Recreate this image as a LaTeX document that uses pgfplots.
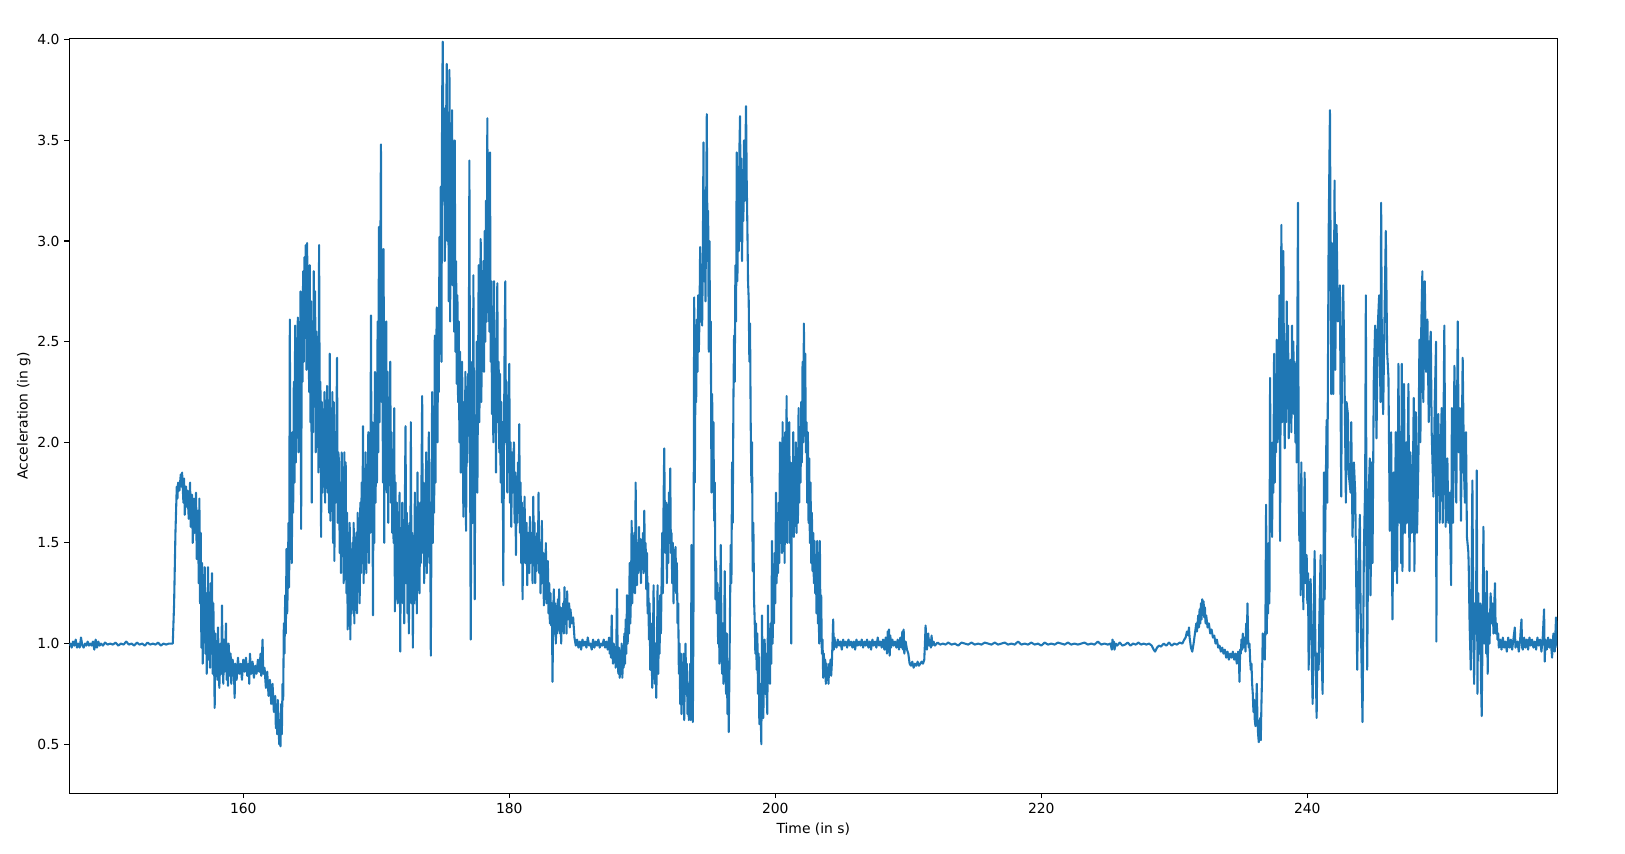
\documentclass[border=0pt]{standalone}
\usepackage{pgfplots}
\pgfplotsset{compat=1.18}
\usepackage{fontspec}
\setmainfont{DejaVu Sans}
\definecolor{mplblue}{HTML}{1F77B4}
\begin{document}
\fontsize{10bp}{12bp}\selectfont
\begin{tikzpicture}
\path[use as bounding box] (-49.9bp,-43.0bp) rectangle (1120.1bp,571.2bp);
\begin{axis}[
 at={(0,0)}, anchor=south west, scale only axis,
 width=1071.4bp, height=543.6bp,
 xmin=146.92, xmax=258.8, ymin=0.256, ymax=4.007,
 xtick={160,180,200,220,240},
 ytick={0.5,1,1.5,2,2.5,3,3.5,4},
 yticklabel style={/pgf/number format/.cd, fixed, fixed zerofill, precision=1},
 /pgf/number format/assume math mode=true,
 tick label style={font=\fontsize{10bp}{12bp}\selectfont},
 label style={font=\fontsize{10bp}{12bp}\selectfont},
 tick align=outside, tick pos=left,
 major tick length=3.5bp,
 every tick/.style={black, line width=0.8bp},
 axis line style={line width=0.8bp},
 every axis y label/.style={at={(axis description cs:0,0.5)}, xshift=-32.7bp, rotate=90, anchor=center},
 every axis x label/.style={at={(axis description cs:0.5,0)}, yshift=-25.7bp, anchor=center},
 xlabel={Time (in s)},
 ylabel={Acceleration (in g)},
]
\addplot[mplblue, line width=1.5bp, line join=round, no marks] coordinates {
(146.92,0.99)(147.0,1.00)(147.1,0.98)(147.2,1.01)(147.3,0.99)(147.4,1.02)(147.5,0.98)(147.6,1.00)(147.7,0.98)(147.8,1.03)(147.9,0.99)(148.0,0.98)(148.1,1.00)(148.2,0.99)(148.3,1.01)(148.4,0.99)(148.5,1.00)(148.6,0.99)(148.7,1.01)(148.8,0.97)(148.9,1.02)(149.0,0.98)(149.1,1.01)(149.2,0.99)(149.3,1.00)(149.45,0.99)(149.6,1.005)(149.8,0.995)(150.0,1.00)(150.2,0.995)(150.4,1.005)(150.6,0.99)(150.8,1.00)(151.0,0.995)(151.2,1.01)(151.4,0.995)(151.6,1.00)(151.8,0.99)(152.0,1.005)(152.2,0.995)(152.4,1.00)(152.6,0.99)(152.8,1.005)(153.0,0.995)(153.2,1.00)(153.4,0.995)(153.6,1.005)(153.8,0.99)(154.0,1.00)(154.2,0.995)(154.4,1.00)(154.6,1.00)(154.7,1.00)
(154.8,1.20)(154.9,1.55)(155.0,1.78)(155.05,1.72)(155.1,1.80)(155.2,1.76)(155.3,1.84)(155.35,1.78)(155.4,1.85)(155.5,1.70)(155.55,1.82)(155.6,1.64)(155.7,1.78)(155.75,1.68)(155.8,1.76)(155.9,1.62)(156.0,1.80)(156.05,1.58)(156.15,1.74)(156.2,1.50)(156.3,1.72)(156.35,1.55)(156.45,1.75)(156.5,1.42)(156.6,1.66)(156.65,1.30)(156.7,1.72)(156.75,1.20)(156.8,1.55)(156.85,0.98)(156.9,1.40)(156.95,0.90)(157.0,1.34)(157.05,1.05)(157.1,1.38)(157.15,0.95)(157.2,1.25)(157.25,0.85)(157.3,1.10)(157.35,1.38)(157.4,0.92)(157.45,1.15)(157.5,0.88)(157.55,1.30)(157.6,0.95)(157.65,1.35)(157.7,0.85)(157.75,1.20)(157.8,0.95)(157.85,0.68)(157.9,1.05)(157.95,0.85)(158.0,1.00)(158.05,0.82)(158.1,1.08)(158.15,0.90)(158.2,0.78)(158.3,1.00)(158.35,0.85)(158.4,1.19)(158.45,0.88)(158.5,0.80)(158.55,1.02)(158.6,0.86)(158.7,1.10)(158.75,0.82)(158.8,0.95)(158.85,0.79)(158.9,1.00)(159.0,0.84)(159.05,0.95)(159.1,0.80)(159.2,0.92)(159.3,0.86)(159.35,0.73)(159.4,0.90)(159.5,0.82)(159.6,0.93)(159.7,0.85)(159.8,0.90)(159.9,0.82)(160.0,0.92)(160.1,0.86)(160.2,0.93)(160.3,0.84)(160.4,0.90)(160.45,0.80)(160.5,0.95)(160.6,0.85)(160.7,0.91)(160.8,0.83)(160.9,0.89)(161.0,0.85)(161.1,0.92)(161.2,0.86)(161.3,0.95)(161.35,0.84)(161.45,1.02)(161.5,0.85)(161.6,0.88)(161.7,0.78)(161.8,0.86)(161.9,0.74)(162.0,0.82)(162.1,0.70)(162.2,0.80)(162.3,0.66)(162.4,0.74)(162.45,0.58)(162.5,0.68)(162.55,0.55)(162.6,0.72)(162.7,0.50)(162.75,0.62)(162.8,0.49)(162.85,0.70)(162.9,0.55)(162.95,0.80)(163.0,0.72)
(163.05,1.10)(163.1,0.95)(163.15,1.24)(163.2,1.05)(163.25,1.47)(163.3,1.15)(163.35,1.30)(163.4,1.60)(163.45,1.28)(163.5,2.61)(163.55,1.50)(163.6,1.70)(163.65,1.40)(163.7,2.05)(163.75,1.65)(163.8,2.30)(163.85,1.80)(163.9,2.58)(163.95,1.90)(164.0,2.45)(164.05,2.10)(164.1,2.62)(164.15,1.95)(164.2,2.50)(164.25,2.20)(164.3,2.75)(164.35,1.57)(164.4,2.60)(164.45,2.30)(164.5,2.85)(164.55,2.40)(164.6,2.92)(164.65,2.55)(164.7,2.98)(164.75,2.36)(164.8,2.99)(164.85,2.50)(164.9,2.80)(164.95,2.25)(165.0,2.88)(165.05,2.10)(165.1,2.70)(165.15,1.70)(165.2,2.60)(165.25,2.05)(165.3,2.85)(165.35,2.20)(165.4,2.75)(165.45,1.95)(165.5,2.55)(165.55,2.00)(165.6,2.45)(165.65,1.85)(165.7,2.98)(165.75,2.10)(165.8,2.30)(165.85,1.53)(165.9,2.20)(165.95,1.75)(166.0,2.15)(166.05,1.80)(166.1,2.25)(166.15,1.70)(166.2,2.05)(166.25,1.85)(166.3,2.28)(166.35,1.75)(166.4,2.00)(166.45,1.65)(166.5,2.44)(166.55,1.61)(166.6,2.10)(166.65,1.75)(166.7,2.25)(166.75,1.50)(166.8,2.20)(166.85,1.41)(166.9,2.05)(166.95,1.70)(167.0,2.05)(167.05,2.42)(167.1,1.60)(167.15,1.95)(167.2,1.90)(167.25,1.45)(167.3,1.80)(167.35,1.35)(167.4,1.95)(167.45,1.50)(167.5,1.85)(167.55,1.30)(167.6,1.95)(167.65,1.40)(167.7,1.90)(167.75,1.25)(167.8,1.65)(167.85,1.07)(167.9,1.55)(167.95,1.20)(168.0,1.60)(168.05,1.02)(168.1,1.45)(168.15,1.15)(168.2,1.50)(168.25,1.25)(168.3,1.60)(168.35,1.10)(168.4,1.45)(168.45,1.25)(168.5,1.55)(168.55,1.15)(168.6,1.65)(168.65,1.30)(168.7,1.50)(168.75,1.20)(168.8,1.70)(168.85,1.35)(168.9,1.80)(168.95,1.40)(169.0,2.08)(169.05,1.30)(169.1,1.75)(169.15,1.45)(169.2,1.95)(169.25,1.35)(169.3,1.80)(169.35,1.50)(169.4,2.05)(169.45,1.40)(169.5,1.90)(169.55,1.55)(169.6,2.63)(169.65,1.60)(169.7,2.10)(169.75,1.14)(169.8,2.00)(169.85,1.50)(169.9,2.35)(169.95,1.70)(170.0,2.30)(170.05,1.80)(170.1,2.60)(170.15,1.95)(170.2,3.07)(170.25,2.10)(170.3,2.85)(170.35,3.48)(170.4,2.20)(170.45,2.75)(170.5,1.80)(170.55,2.96)(170.6,1.50)(170.65,2.40)(170.7,1.90)(170.75,2.60)(170.8,1.75)(170.85,2.35)(170.9,1.60)(170.95,2.20)
(171.0,1.85)(171.05,2.40)(171.1,1.70)(171.15,2.05)(171.2,1.55)(171.25,1.90)(171.3,1.50)(171.35,2.17)(171.4,1.16)(171.45,1.80)(171.5,1.30)(171.55,1.70)(171.6,1.20)(171.65,1.60)(171.7,1.35)(171.75,1.75)(171.8,0.96)(171.85,1.50)(171.9,1.25)(171.95,1.70)(172.0,1.20)(172.05,1.55)(172.1,1.10)(172.15,1.70)(172.2,2.08)(172.25,1.30)(172.3,1.65)(172.35,1.15)(172.4,1.50)(172.45,1.05)(172.5,1.60)(172.55,1.25)(172.6,2.10)(172.65,1.20)(172.7,1.55)(172.75,0.98)(172.8,1.45)(172.85,1.20)(172.9,1.75)(172.95,1.30)(173.0,1.60)(173.05,1.15)(173.1,1.85)(173.15,1.35)(173.2,1.65)(173.25,1.25)(173.3,1.70)(173.35,1.40)(173.45,2.23)(173.5,1.45)(173.55,1.80)(173.6,1.30)(173.65,1.65)(173.7,1.50)(173.75,1.95)(173.8,1.35)(173.85,1.75)(173.9,1.55)(173.95,2.05)(174.0,1.40)(174.05,1.70)(174.1,0.94)(174.15,1.60)(174.2,2.25)(174.25,1.50)(174.3,1.90)(174.35,1.65)(174.4,2.53)(174.45,1.80)(174.5,2.40)(174.55,2.67)(174.6,2.00)(174.65,2.55)(174.7,2.25)(174.75,3.02)(174.8,2.60)(174.85,3.27)(174.9,2.40)(174.95,3.70)(175.0,3.99)
(175.05,3.20)(175.1,3.66)(175.15,2.90)(175.2,3.15)(175.25,3.60)(175.3,3.88)(175.35,3.00)(175.4,3.50)(175.45,2.70)(175.5,3.85)(175.55,2.60)(175.6,3.30)(175.65,2.95)(175.7,3.65)(175.75,2.78)(175.8,3.20)(175.85,2.55)(175.9,3.50)(175.95,2.45)(176.0,2.90)(176.05,2.29)(176.1,2.73)(176.15,2.20)(176.2,2.60)(176.25,2.00)(176.3,2.45)(176.35,1.85)(176.45,2.40)(176.55,1.63)(176.6,2.20)(176.65,1.80)(176.7,2.35)(176.75,1.56)(176.8,2.10)(176.85,1.90)(176.9,2.34)(176.95,2.20)(177.0,3.40)(177.05,2.00)(177.1,1.02)(177.15,1.80)(177.2,2.40)(177.25,1.60)(177.3,2.83)(177.35,1.90)(177.4,1.22)(177.45,2.10)(177.5,1.92)(177.55,2.50)(177.6,1.75)(177.7,2.88)(177.75,2.10)(177.8,2.60)(177.85,3.01)(177.9,2.20)(177.95,2.70)(178.0,2.44)(178.05,2.90)(178.1,2.35)(178.15,3.05)(178.2,2.50)(178.25,3.20)(178.3,2.60)(178.35,3.61)(178.4,2.70)(178.45,3.20)(178.5,2.55)(178.55,3.44)(178.6,2.40)(178.65,2.80)(178.7,2.14)(178.75,2.60)(178.8,2.00)(178.85,2.80)(178.9,2.20)(178.95,2.50)(179.0,1.85)(179.05,2.45)(179.1,2.79)(179.15,2.10)(179.2,2.40)(179.25,1.95)(179.3,2.34)(179.35,1.80)(179.4,2.20)(179.45,1.70)(179.5,2.10)(179.55,1.29)(179.6,2.00)(179.65,2.50)(179.7,2.80)(179.75,2.00)(179.8,2.30)(179.85,1.75)(179.9,2.15)(179.95,1.90)(180.0,2.39)(180.05,1.70)(180.1,2.00)(180.15,1.58)(180.2,1.95)(180.25,1.75)(180.35,2.00)(180.4,1.60)(180.45,1.85)(180.5,1.44)(180.55,1.80)(180.6,1.60)(180.65,1.90)(180.7,1.65)(180.75,2.09)(180.8,1.55)(180.85,1.80)(180.9,1.40)(180.95,1.70)(181.0,1.22)(181.05,1.60)(181.1,1.45)(181.15,1.73)(181.2,1.40)(181.3,1.60)(181.35,1.29)(181.4,1.55)(181.5,1.35)(181.55,1.63)(181.6,1.40)(181.7,1.55)(181.75,1.30)(181.8,1.73)(181.85,1.45)(181.9,1.60)(181.95,1.30)(182.0,1.50)(182.05,1.36)(182.1,1.55)(182.15,1.40)(182.2,1.75)(182.25,1.35)(182.3,1.50)(182.35,1.25)(182.45,1.61)(182.5,1.30)(182.55,1.45)(182.6,1.19)(182.65,1.40)(182.7,1.25)(182.75,1.50)(182.8,1.20)(182.9,1.41)(182.95,1.15)(183.0,1.30)(183.05,1.10)(183.1,1.25)(183.15,1.09)(183.2,1.20)(183.25,0.81)(183.3,1.15)(183.35,1.27)(183.4,1.05)(183.45,1.20)(183.5,1.00)(183.55,1.15)(183.6,1.05)(183.65,1.22)(183.7,1.10)(183.75,1.27)(183.8,1.05)(183.85,1.18)(183.9,1.00)(183.95,1.15)(184.0,1.09)(184.05,1.20)(184.1,1.05)(184.15,1.28)(184.2,1.10)(184.25,1.20)(184.3,1.05)(184.35,1.26)(184.4,1.12)(184.5,1.20)(184.55,1.08)(184.6,1.17)(184.7,1.10)(184.8,1.13)(184.9,1.03)
(185.0,0.99)(185.1,1.02)(185.2,0.98)(185.3,1.01)(185.4,0.97)(185.5,1.02)(185.6,0.99)(185.7,1.01)(185.8,0.98)(185.9,1.03)(186.0,0.99)(186.1,1.00)(186.2,0.97)(186.3,1.02)(186.4,0.98)(186.5,1.01)(186.6,0.99)(186.7,1.02)(186.8,0.98)(186.9,1.00)(187.0,0.99)(187.1,1.02)(187.2,0.98)(187.3,1.01)(187.4,0.97)(187.5,1.03)(187.55,0.95)(187.6,1.01)(187.65,0.93)(187.7,1.14)(187.75,0.96)(187.8,0.90)(187.85,1.00)(187.9,0.92)(187.95,0.98)(188.0,0.88)(188.05,1.00)(188.1,1.27)(188.15,0.92)(188.2,0.85)(188.25,0.98)(188.3,0.83)(188.35,0.95)(188.4,0.86)(188.45,1.00)(188.5,0.83)(188.55,0.94)(188.6,0.88)(188.65,1.05)(188.7,0.90)(188.75,1.12)(188.8,0.95)(188.85,1.24)(188.9,1.00)(188.95,1.15)(189.0,1.05)(189.05,1.40)(189.1,1.10)(189.15,1.25)
(189.2,1.61)(189.25,1.20)(189.3,1.45)(189.35,1.31)(189.4,1.55)(189.45,1.25)(189.5,1.80)(189.55,1.40)(189.6,1.29)(189.65,1.50)(189.7,1.35)(189.75,1.58)(189.8,1.40)(189.85,1.52)(189.9,1.30)(189.95,1.48)(190.0,1.44)(190.05,1.55)(190.1,1.35)(190.15,1.66)(190.2,1.40)(190.25,1.50)(190.3,1.27)(190.35,1.45)(190.4,1.15)(190.45,1.30)(190.5,1.02)(190.55,1.20)(190.6,0.87)(190.65,1.10)(190.7,0.95)(190.75,0.78)(190.8,1.00)(190.85,1.29)(190.9,0.90)(190.95,0.80)(191.0,1.00)(191.05,0.73)(191.1,0.95)(191.15,1.29)(191.2,0.85)(191.25,1.10)(191.3,0.95)(191.35,1.24)(191.4,1.05)(191.45,1.30)(191.5,1.55)(191.55,1.25)(191.6,1.70)(191.65,1.97)(191.7,1.60)(191.75,1.45)(191.8,1.70)(191.85,1.30)(191.9,1.60)(191.95,1.40)(192.0,1.75)(192.05,1.50)(192.1,1.87)(192.15,1.45)(192.2,1.55)(192.25,1.30)(192.3,1.50)(192.35,1.20)(192.4,1.45)(192.45,1.33)(192.5,1.48)(192.55,1.25)(192.6,1.40)(192.65,1.10)(192.7,1.20)(192.75,0.85)(192.8,1.00)(192.85,0.70)(192.9,0.95)(192.95,0.65)(193.0,0.88)(193.05,0.70)(193.1,0.95)(193.15,0.62)(193.2,0.85)(193.25,1.00)(193.3,0.75)(193.35,0.90)(193.4,0.65)(193.45,0.80)(193.5,0.62)(193.55,0.75)(193.6,0.90)(193.65,0.62)(193.7,1.49)(193.75,0.80)(193.8,0.61)(193.85,1.20)(193.9,2.72)(193.95,1.80)(194.0,2.40)(194.05,2.20)(194.1,2.61)(194.15,2.35)(194.2,2.73)(194.25,2.45)(194.3,2.62)(194.35,2.97)(194.4,2.60)(194.45,2.80)(194.5,2.58)(194.55,2.90)(194.6,3.49)(194.65,2.80)(194.7,3.19)(194.75,2.70)(194.85,3.63)(194.9,2.90)(194.95,3.15)(195.0,2.45)(195.05,3.00)(195.1,2.46)(195.15,2.60)(195.2,1.75)(195.25,2.24)(195.3,1.90)(195.35,2.10)(195.4,1.61)(195.45,1.80)(195.5,1.22)(195.55,1.41)(195.6,1.15)(195.65,1.30)(195.7,1.00)(195.75,1.25)(195.8,0.90)(195.85,1.20)(195.9,1.49)(195.95,1.05)(196.0,0.85)(196.05,1.10)(196.1,0.80)(196.15,1.00)(196.2,1.36)(196.25,0.90)(196.3,0.75)(196.35,1.05)(196.4,0.65)(196.45,0.90)(196.5,0.56)(196.55,0.85)(196.6,1.20)(196.65,1.49)(196.7,1.30)(196.75,1.90)(196.8,1.60)(196.85,2.20)(196.9,2.53)(196.95,2.30)(197.0,2.88)(197.05,2.60)(197.1,3.44)(197.15,2.80)(197.2,3.24)(197.25,2.95)(197.3,3.45)(197.35,3.62)(197.4,3.00)(197.45,3.41)(197.5,2.90)(197.55,3.30)(197.6,3.10)(197.65,3.50)(197.7,3.20)(197.8,3.67)(197.85,3.30)(197.9,3.07)(197.95,2.80)(198.0,2.71)(198.05,2.40)(198.1,2.59)(198.15,2.10)(198.2,1.80)(198.25,2.00)(198.3,1.36)(198.35,1.60)(198.4,1.22)(198.45,1.12)(198.5,0.95)(198.55,1.10)(198.6,0.87)(198.65,1.05)(198.7,0.75)(198.75,0.95)(198.8,0.60)(198.85,0.80)(198.95,0.50)(199.0,1.14)(199.05,0.80)(199.1,0.63)(199.15,0.90)(199.2,1.02)(199.25,0.75)(199.3,0.95)(199.35,0.75)(199.4,0.65)(199.45,1.19)(199.5,0.85)(199.55,1.05)(199.6,0.80)(199.65,1.10)(199.7,0.90)(199.75,1.51)(199.8,1.00)(199.85,1.30)(199.9,1.10)(199.95,1.45)(200.0,1.20)(200.05,1.75)(200.1,1.30)(200.15,1.60)(200.2,1.35)(200.25,1.70)(200.3,1.40)(200.35,2.00)(200.4,1.50)(200.45,1.85)(200.5,1.45)(200.55,2.10)(200.6,1.55)(200.65,1.90)(200.7,1.40)(200.75,2.05)(200.8,1.60)(200.85,2.23)(200.9,1.50)(200.95,1.90)(201.0,1.70)(201.05,2.10)(201.1,1.50)(201.15,1.90)(201.2,1.00)(201.25,1.80)(201.3,1.60)(201.35,2.05)(201.4,1.53)(201.45,1.92)(201.5,1.65)(201.55,2.00)(201.6,1.55)(201.65,1.85)(201.7,1.60)(201.75,2.17)(201.8,1.70)(201.85,2.00)(201.9,1.80)(201.95,2.20)(202.0,1.90)(202.05,2.40)(202.1,2.00)(202.15,2.59)(202.2,2.10)(202.25,2.44)(202.3,1.95)(202.35,2.10)(202.4,1.70)(202.45,2.05)(202.5,1.60)(202.55,1.92)(202.6,1.50)(202.65,1.80)(202.7,1.40)(202.75,1.65)(202.8,1.36)(202.85,1.55)(202.9,1.30)(202.95,1.51)(203.0,1.25)(203.05,1.40)(203.1,1.15)(203.15,1.51)(203.2,1.10)(203.25,1.24)(203.3,1.00)(203.35,1.51)(203.4,1.05)(203.45,1.24)(203.5,0.95)(203.55,1.02)(203.6,0.83)(203.65,0.95)(203.7,0.85)(203.75,0.92)(203.8,0.80)(203.85,0.90)(203.9,0.82)(203.95,0.88)(204.0,0.80)(204.05,0.90)(204.1,0.85)(204.15,0.92)(204.2,0.84)(204.25,0.90)(204.3,1.00)(204.35,1.12)(204.4,0.97)(204.45,1.03)
(204.5,1.00)(204.6,0.98)(204.7,1.02)(204.8,0.99)(204.9,1.01)(205.0,0.97)(205.1,1.02)(205.2,0.99)(205.3,1.01)(205.4,0.98)(205.5,1.02)(205.6,0.99)(205.7,1.01)(205.8,0.98)(205.9,1.01)(206.0,0.97)(206.1,1.02)(206.2,0.99)(206.3,1.01)(206.4,0.99)(206.5,1.02)(206.6,0.98)(206.7,1.01)(206.8,0.99)(206.9,1.02)(207.0,0.98)(207.1,1.01)(207.2,0.97)(207.3,1.02)(207.4,0.99)(207.5,1.01)(207.6,0.98)(207.7,1.03)(207.8,0.99)(207.9,1.01)(208.0,0.98)(208.1,1.02)(208.2,0.97)(208.3,1.03)(208.4,0.95)(208.45,1.06)(208.5,0.96)(208.55,1.07)(208.6,0.94)(208.65,1.04)(208.7,0.98)(208.8,1.02)(208.9,0.99)(209.0,1.01)(209.1,0.98)(209.2,1.02)(209.3,0.97)(209.4,1.03)(209.5,0.98)(209.55,1.06)(209.6,0.97)(209.65,1.07)(209.7,0.95)(209.8,1.01)(209.9,0.97)(210.0,0.95)(210.1,0.90)(210.2,0.89)(210.3,0.91)(210.4,0.88)(210.5,0.90)(210.6,0.89)(210.7,0.91)(210.8,0.89)(210.9,0.90)(211.0,0.91)(211.1,0.90)(211.2,0.92)(211.25,1.00)(211.3,1.09)(211.35,1.02)(211.4,0.97)(211.45,1.03)(211.5,1.05)(211.55,0.99)(211.6,1.02)(211.7,0.98)(211.75,1.04)(211.8,0.99)(211.9,1.01)(212.0,0.99)(212.2,1.005)(212.4,0.995)
(212.6,1.00)(212.8,0.995)(213.0,1.005)(213.25,0.995)(213.5,1.00)(213.75,0.99)(214.0,1.005)(214.25,1.00)(214.5,0.995)(214.75,1.005)(215.0,0.995)(215.25,1.00)(215.5,0.995)(215.75,1.005)(216.0,1.00)(216.25,0.995)(216.5,1.005)(216.75,0.995)(217.0,1.00)(217.25,1.005)(217.5,0.995)(217.75,1.00)(218.0,0.995)(218.25,1.01)(218.5,0.995)(218.75,1.00)(219.0,0.995)(219.25,1.005)(219.5,0.995)(219.75,1.00)(220.0,0.99)(220.25,1.005)(220.5,0.995)(220.75,1.00)(221.0,0.995)(221.25,1.005)(221.5,1.00)(221.75,0.995)(222.0,1.005)(222.25,0.995)(222.5,1.00)(222.75,0.995)(223.0,1.00)(223.25,1.005)(223.5,0.995)(223.75,1.00)(224.0,0.995)(224.25,1.01)(224.5,0.995)(224.75,1.00)(225.0,0.995)(225.2,1.00)(225.3,0.97)(225.35,1.02)(225.4,0.98)(225.45,1.01)(225.5,0.97)(225.6,1.00)(225.7,0.99)(225.9,1.005)(226.1,0.99)(226.3,0.995)(226.5,1.005)(226.7,0.99)(226.9,1.00)(227.1,0.995)(227.3,1.005)(227.5,0.995)(227.7,1.00)(227.9,0.995)(228.1,1.00)(228.3,0.99)(228.45,0.97)(228.55,0.96)(228.7,0.98)(228.85,0.99)(229.0,0.985)(229.2,1.00)(229.4,0.99)(229.6,1.005)(229.8,0.99)(230.0,1.00)(230.2,0.995)(230.4,1.005)(230.6,1.00)
(230.75,1.02)(230.85,1.03)(230.95,1.06)(231.05,1.04)(231.1,1.08)(231.15,1.03)(231.25,0.98)(231.35,0.96)(231.45,1.00)(231.55,1.05)(231.65,1.10)(231.7,1.06)(231.8,1.14)(231.85,1.08)(231.9,1.17)(231.95,1.10)(232.0,1.20)(232.05,1.12)(232.1,1.22)(232.15,1.15)(232.2,1.21)(232.25,1.13)(232.3,1.18)(232.35,1.10)(232.4,1.14)(232.5,1.08)(232.6,1.10)(232.7,1.05)(232.8,1.07)(232.9,1.03)(233.0,1.04)(233.1,1.00)(233.2,1.02)(233.3,0.98)(233.4,0.99)(233.5,0.96)(233.6,0.98)(233.7,0.95)(233.8,0.97)(233.9,0.93)(234.0,0.96)(234.1,0.92)(234.2,0.95)(234.3,0.93)(234.4,0.96)(234.5,0.92)(234.6,0.95)(234.7,0.90)(234.8,0.96)(234.85,0.94)(234.9,0.81)(234.95,0.97)(235.0,0.95)(235.05,1.02)(235.1,0.97)(235.15,1.05)(235.2,0.98)(235.3,1.03)(235.35,0.96)(235.4,1.10)(235.45,1.00)(235.5,1.20)(235.55,1.02)(235.6,0.98)(235.65,1.00)(235.7,0.92)(235.75,0.87)(235.8,0.90)(235.85,0.80)(235.9,0.75)(235.95,0.66)(236.0,0.72)(236.05,0.62)(236.1,0.59)(236.15,0.68)(236.2,0.80)(236.25,0.62)(236.3,0.55)(236.35,0.51)(236.4,0.58)(236.45,0.63)(236.5,0.52)(236.55,0.70)(236.6,0.85)(236.65,1.05)(236.7,0.95)(236.75,1.00)(236.8,0.92)(236.85,1.10)(236.9,1.69)(236.95,1.05)(237.0,1.30)(237.05,1.15)(237.1,1.50)(237.15,1.20)(237.2,2.32)(237.25,1.60)(237.3,1.85)(237.35,1.53)(237.4,2.00)(237.45,1.75)(237.5,2.44)(237.55,1.80)(237.6,2.20)(237.65,1.95)(237.7,2.51)(237.75,2.00)(237.8,2.30)(237.85,2.05)(237.9,2.73)(237.95,1.51)(238.0,2.40)(238.05,3.08)(238.1,2.10)(238.15,2.60)(238.2,2.95)(238.25,2.20)(238.3,1.97)(238.35,2.50)(238.4,2.10)(238.45,2.70)(238.5,2.25)(238.55,2.58)(238.6,2.02)(238.65,2.40)(238.7,2.15)(238.75,2.41)(238.8,2.05)(238.85,2.58)(238.9,2.20)(238.95,2.50)(239.0,2.14)(239.05,2.40)(239.1,2.00)(239.15,2.30)(239.2,1.90)(239.3,3.19)(239.35,1.80)(239.4,1.51)(239.45,1.75)(239.5,1.24)(239.55,1.90)(239.6,1.45)(239.65,1.65)(239.7,1.17)(239.75,1.50)(239.8,1.85)(239.85,1.30)(239.95,1.44)(240.0,1.20)(240.05,1.35)(240.1,0.87)(240.15,1.20)(240.25,1.32)(240.3,1.05)(240.4,0.70)(240.45,1.00)(240.55,1.46)(240.6,1.00)(240.7,0.63)(240.75,0.95)(240.85,0.87)(240.9,1.10)(241.0,1.44)(241.05,1.00)(241.15,0.75)(241.2,1.20)(241.25,1.85)(241.3,1.22)(241.35,1.60)(241.45,2.11)(241.5,1.70)(241.6,3.00)(241.7,3.65)(241.8,2.24)(241.85,2.99)(241.9,2.30)(241.95,2.24)(242.05,3.30)(242.1,2.36)(242.2,3.08)(242.3,2.60)(242.45,2.78)(242.5,2.20)(242.55,1.73)(242.6,2.40)(242.7,2.78)(242.8,2.29)(242.9,1.70)(242.95,2.20)(243.05,2.14)(243.1,1.85)(243.25,1.75)(243.3,2.10)(243.4,1.53)(243.5,1.90)(243.6,1.75)(243.7,1.17)(243.75,0.87)(243.85,1.36)(243.95,1.64)(244.0,1.20)(244.15,0.61)(244.2,1.00)(244.25,1.46)(244.35,1.80)(244.4,2.73)(244.45,1.40)(244.5,0.87)(244.55,1.30)(244.6,1.73)(244.7,1.92)(244.75,1.24)(244.8,1.55)(244.85,1.90)(244.9,1.40)(245.0,2.34)(245.1,2.58)(245.2,2.02)(245.3,2.58)(245.4,2.73)(245.5,2.20)(245.55,3.19)(245.6,2.50)(245.7,2.14)(245.8,2.60)(245.9,3.05)(246.0,2.45)(246.1,2.32)(246.2,1.56)(246.3,2.05)(246.4,1.12)(246.5,1.85)(246.55,1.36)(246.65,2.05)(246.75,1.30)(246.85,2.39)
(246.95,1.60)(247.0,2.05)(247.05,1.40)(247.1,2.39)(247.15,1.36)(247.2,1.80)(247.27,2.29)(247.35,1.55)(247.45,2.00)(247.5,1.60)(247.6,2.29)(247.68,1.36)(247.75,1.95)(247.85,1.55)(247.95,1.90)(248.0,2.22)(248.05,1.36)(248.15,2.15)(248.25,1.55)(248.35,1.90)(248.43,2.51)(248.5,2.00)(248.55,2.51)(248.65,2.85)(248.72,2.20)(248.83,2.80)(248.93,2.35)(249.03,2.61)(249.13,2.10)(249.2,2.45)(249.28,2.55)(249.35,2.05)(249.48,1.73)(249.58,2.20)(249.68,2.50)(249.7,1.01)(249.75,1.80)(249.85,2.14)(249.95,1.60)(250.02,1.95)(250.1,2.17)(250.18,1.60)(250.3,2.58)(250.4,1.58)(250.45,1.85)(250.53,1.92)(250.6,1.60)(250.7,1.75)(250.81,1.29)(250.87,2.17)(250.95,1.60)(251.06,2.38)(251.15,1.95)(251.2,1.70)(251.31,2.60)(251.38,1.95)(251.48,2.17)(251.55,1.61)(251.68,2.42)(251.78,1.85)(251.85,1.70)(251.93,2.05)(252.0,1.53)(252.1,1.46)(252.13,1.40)(252.2,1.10)(252.29,0.87)(252.35,1.30)(252.41,1.81)(252.48,1.10)(252.54,0.80)(252.6,1.20)(252.68,1.05)(252.74,1.86)(252.79,0.75)(252.85,1.25)(252.92,0.95)(253.0,1.20)(253.05,0.85)(253.11,0.64)(253.18,1.10)(253.24,1.58)(253.3,1.00)(253.38,1.25)(253.45,0.95)(253.49,1.36)(253.56,0.85)(253.62,1.15)(253.7,1.00)(253.78,1.25)(253.86,1.10)(253.92,1.20)(254.0,1.05)(254.05,1.18)(254.11,1.30)(254.16,1.05)(254.24,1.10)(254.3,1.02)(254.35,1.05)(254.4,0.98)(254.5,1.02)(254.6,0.97)(254.7,1.03)(254.8,0.98)(254.9,1.01)(255.0,0.96)(255.1,1.03)(255.2,0.98)(255.3,1.02)(255.4,0.97)(255.6,1.08)(255.65,0.98)(255.8,1.01)(255.9,0.96)(256.0,1.02)(256.1,1.12)(256.15,0.98)(256.2,0.97)(256.3,1.03)(256.4,0.98)(256.5,1.02)(256.6,0.97)(256.7,1.03)(256.8,0.99)(256.9,1.02)(257.0,0.98)(257.1,1.01)(257.2,0.97)(257.3,1.03)(257.4,0.99)(257.5,1.02)(257.6,0.96)(257.7,1.03)(257.8,1.17)(257.85,0.91)(257.9,1.02)(258.0,0.97)(258.1,1.03)(258.2,0.98)(258.3,1.02)(258.4,0.93)(258.5,1.05)(258.6,0.96)(258.7,1.13)(258.8,0.98)
};
\end{axis}
\end{tikzpicture}
\end{document}
